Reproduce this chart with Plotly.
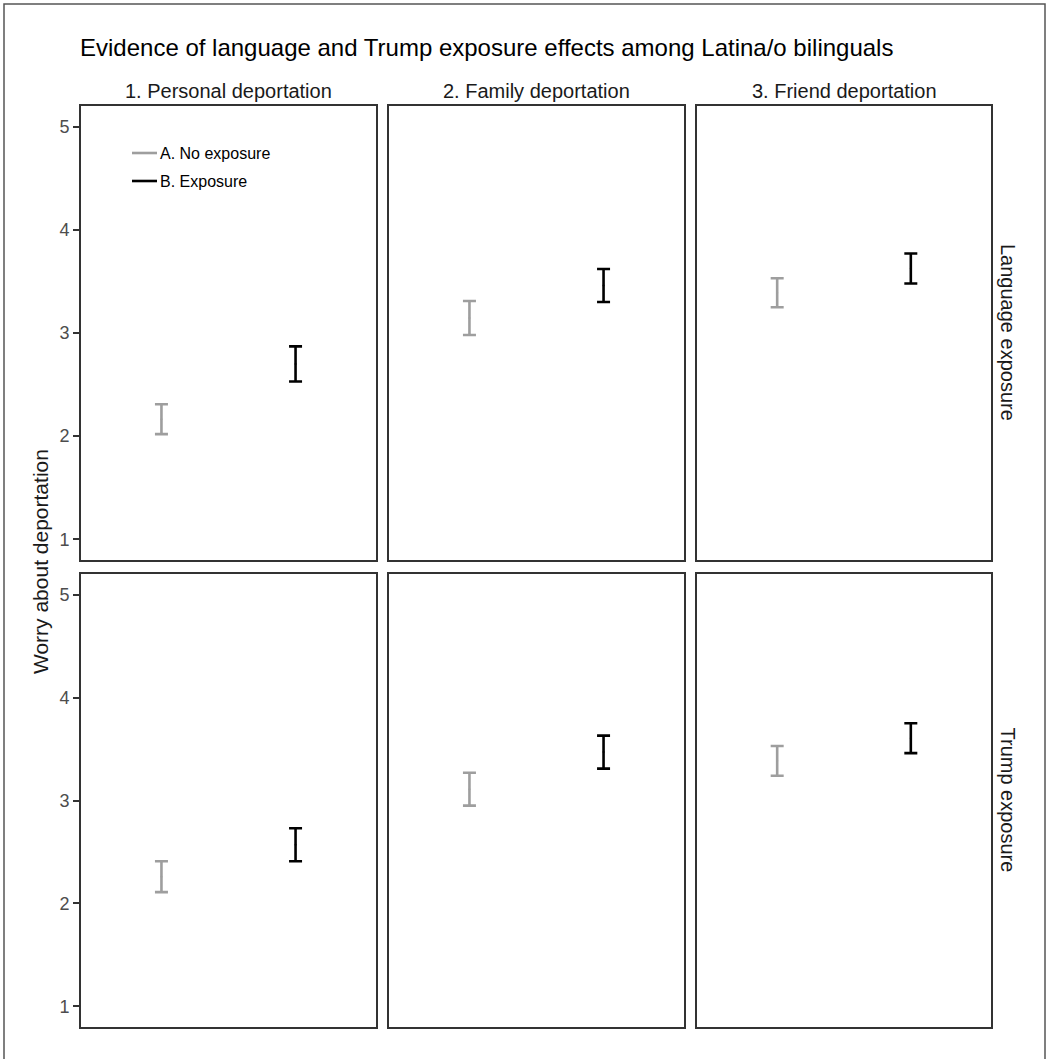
import plotly.graph_objects as go

# ---- data ----
columns = ["1. Personal deportation", "2. Family deportation", "3. Friend deportation"]
rows = ["Language exposure", "Trump exposure"]
groups = ["A. No exposure", "B. Exposure"]
group_colors = ["#9E9E9E", "#000000"]
yticks = [1, 2, 3, 4, 5]

# lower / upper bounds of intervals, [row][column]
no_exp_low = [[2.02, 2.98, 3.25], [2.11, 2.95, 3.24]]
no_exp_high = [[2.31, 3.31, 3.53], [2.41, 3.27, 3.53]]
exp_low = [[2.53, 3.30, 3.48], [2.41, 3.31, 3.46]]
exp_high = [[2.87, 3.62, 3.77], [2.73, 3.63, 3.75]]

W, H = 1049, 1059
L, R, T, B = 81, 58, 106, 32
PW, PH = W - L - R, H - T - B

def px_x(p):
    return (p - L) / PW

def px_y(p):
    return (H - B - p) / PH

col_px = [(81, 376), (389, 684), (697, 991)]
row_px = [(106, 560), (574, 1027)]

fig = go.Figure()
layout = {}
axis_font = dict(family="Liberation Sans, Arial", size=18, color="#4D4D4D")

for r in range(2):
    for c in range(3):
        idx = r * 3 + c + 1
        xa = "x" if idx == 1 else f"x{idx}"
        ya = "y" if idx == 1 else f"y{idx}"
        lows = [no_exp_low[r][c], exp_low[r][c]]
        highs = [no_exp_high[r][c], exp_high[r][c]]
        for g in range(2):
            mid = (lows[g] + highs[g]) / 2
            fig.add_trace(go.Scatter(
                x=[g + 1], y=[mid], mode="markers",
                marker=dict(size=2, color=group_colors[g]),
                error_y=dict(type="data", symmetric=False,
                             array=[highs[g] - mid], arrayminus=[mid - lows[g]],
                             color=group_colors[g], thickness=2.6, width=6.5),
                xaxis=xa, yaxis=ya, showlegend=False, name=groups[g],
            ))
        x0, x1 = col_px[c]
        y0, y1 = row_px[r]
        layout["xaxis" if idx == 1 else f"xaxis{idx}"] = dict(
            domain=[px_x(x0), px_x(x1)], range=[0.4, 2.6], anchor=ya,
            showticklabels=False, ticks="", showgrid=False, zeroline=False,
            showline=True, mirror=True, linecolor="#333333", linewidth=1.6)
        layout["yaxis" if idx == 1 else f"yaxis{idx}"] = dict(
            domain=[px_y(y1), px_y(y0)], range=[0.8, 5.2], anchor=xa,
            tickvals=yticks if c == 0 else [], showticklabels=(c == 0),
            ticks="outside" if c == 0 else "", ticklen=6, tickwidth=1.6, tickcolor="#333333",
            tickfont=axis_font, showgrid=False, zeroline=False,
            showline=True, mirror=True, linecolor="#333333", linewidth=1.6)

fig.update_layout(**layout)

ann = []
strip_font = dict(family="Liberation Sans, Arial", size=20, color="#1A1A1A")
for c in range(3):
    x0, x1 = col_px[c]
    ann.append(dict(text=columns[c], x=px_x((x0 + x1) / 2), y=px_y(91), xref="paper", yref="paper",
                    showarrow=False, xanchor="center", yanchor="middle", font=strip_font))
for r in range(2):
    y0, y1 = row_px[r]
    ann.append(dict(text=rows[r], x=px_x(1008), y=px_y((y0 + y1) / 2), xref="paper", yref="paper",
                    showarrow=False, xanchor="center", yanchor="middle", textangle=90, font=strip_font))
ann.append(dict(text="Worry about deportation", x=px_x(40), y=px_y(562), xref="paper", yref="paper",
                showarrow=False, xanchor="center", yanchor="middle", textangle=-90,
                font=dict(family="Liberation Sans, Arial", size=21, color="#1A1A1A")))
# legend
shapes = []
leg_y = [153, 181]
for g in range(2):
    shapes.append(dict(type="line", xref="paper", yref="paper",
                       x0=px_x(132), x1=px_x(157), y0=px_y(leg_y[g]), y1=px_y(leg_y[g]),
                       line=dict(color=group_colors[g], width=2.6)))
    ann.append(dict(text=groups[g], x=px_x(158), y=px_y(leg_y[g]), xref="paper", yref="paper",
                    showarrow=False, xanchor="left", yanchor="middle",
                    font=dict(family="Liberation Sans, Arial", size=16, color="#000000")))
# outer frame
shapes.append(dict(type="rect", xref="paper", yref="paper",
                   x0=px_x(4), x1=px_x(1045), y0=px_y(1065), y1=px_y(4),
                   line=dict(color="#555555", width=1.5), fillcolor="rgba(0,0,0,0)"))

fig.update_layout(
    width=W, height=H, margin=dict(l=L, r=R, t=T, b=B),
    paper_bgcolor="white", plot_bgcolor="white",
    annotations=ann, shapes=shapes, showlegend=False,
    title=dict(text="Evidence of language and Trump exposure effects among Latina/o bilinguals",
               x=80 / W, xref="container", xanchor="left", y=1 - 48 / H, yref="container", yanchor="middle",
               font=dict(family="Liberation Sans, Arial", size=24, color="#000000")),
)

fig.write_html("out.html", config={"displayModeBar": False},
               post_script="document.body.style.margin='0';document.body.style.overflow='hidden';")
